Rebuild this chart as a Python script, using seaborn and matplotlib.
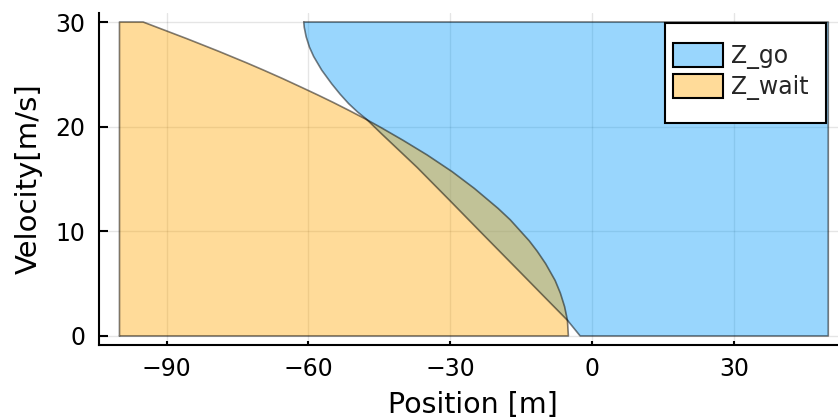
import matplotlib
matplotlib.use("Agg")
import matplotlib.pyplot as plt
from matplotlib.patches import Patch, Rectangle
import seaborn as sns
import pandas as pd

# Boundary of the "go" zone (position [m], velocity [m/s]), traced as a closed polygon
go_x = [-61.0, -60.9, -60.5, -59.8, -58.9, -57.2, -55.1, -53.3, -51.5, -49.6,
        -47.7, -44.5, -37.0, -30.0, -23.5, -15.0, -10.0, -5.2, -2.5, 50.0,
        50.0, -61.0]
go_v = [30.0, 29.5, 28.6, 27.6, 26.7, 25.4, 24.1, 23.1, 22.2, 21.4,
        20.7, 19.3, 16.1, 12.9, 9.9, 6.0, 3.7, 1.5, 0.0, 0.0,
        30.0, 30.0]

# Boundary of the "wait" zone
wait_x = [-100.0, -100.0, -95.0, -85.7, -79.0, -73.1, -69.5, -65.5, -61.2, -57.9,
          -54.7, -51.2, -47.8, -44.6, -40.0, -34.9, -29.6, -24.9, -19.9, -17.3,
          -13.3, -11.6, -9.8, -7.8, -6.7, -5.8, -5.2, -5.0, -100.0]
wait_v = [0.0, 30.0, 30.0, 28.4, 27.2, 26.1, 25.4, 24.6, 23.7, 23.0,
          22.3, 21.5, 20.7, 19.9, 18.7, 17.3, 15.7, 14.1, 12.2, 11.1,
          9.1, 8.1, 6.9, 5.3, 4.1, 2.8, 1.5, 0.0, 0.0]

series = ["Z_go", "Z_wait"]
x_ticks = [-90, -60, -30, 0, 30]
y_ticks = [0, 10, 20, 30]

GO_COLOR = (0 / 255, 154 / 255, 250 / 255)
WAIT_COLOR = (255 / 255, 165 / 255, 0 / 255)
FILL_ALPHA = 0.4
EDGE = (0, 0, 0, 0.5)

sns.set_theme(style="ticks")
plt.rcParams["font.family"] = ["DejaVu Sans"]

fig = plt.figure(figsize=(8.38, 4.18), dpi=100)
ax = fig.add_axes([0.1181, 0.1737, 0.8819, 0.7962])

ax.set_xlim(-104.34, 52.06)
ax.set_ylim(-0.9, 30.9)
ax.set_xticks(x_ticks)
ax.set_yticks(y_ticks)
ax.grid(True, color="black", alpha=0.1, linewidth=1.0)
ax.set_axisbelow(True)

zones = [
    (go_x, go_v, GO_COLOR),
    (wait_x, wait_v, WAIT_COLOR),
]
for xs, vs, col in zones:
    ax.fill(xs, vs, facecolor=col, alpha=FILL_ALPHA, edgecolor="none", zorder=2)
    df = pd.DataFrame({"x": xs, "v": vs})
    sns.lineplot(data=df, x="x", y="v", sort=False, estimator=None,
                 color=EDGE, linewidth=1.2, ax=ax, legend=False, zorder=3)

for side in ("top", "right"):
    ax.spines[side].set_visible(False)
for side in ("left", "bottom"):
    ax.spines[side].set_linewidth(1.5)
    ax.spines[side].set_color("black")

ax.tick_params(axis="y", direction="in", length=6.3, width=1.5, pad=10,
               labelsize=17, colors="black")
ax.tick_params(axis="x", direction="in", length=2.9, width=1.5, pad=8,
               labelsize=17, colors="black")

ax.set_xlabel("Position [m]", fontsize=20.5, color="black")
ax.set_ylabel("Velocity[m/s]", fontsize=21, color="black")
ax.xaxis.set_label_coords(0.506, -0.178)
ax.xaxis.label.set_va("center")
ax.yaxis.set_label_coords(-0.0954, 0.5)
ax.yaxis.label.set_va("center")
ax.yaxis.label.set_ha("center")

# Legend frame drawn as a figure-level box, entries placed inside it
frame = Rectangle((0.7936, 0.705), 0.1918, 0.2392, transform=fig.transFigure,
                  facecolor="white", edgecolor="black", linewidth=1.5, zorder=5)
fig.patches.append(frame)

handles = [
    Patch(facecolor=(*GO_COLOR, FILL_ALPHA), edgecolor="black", linewidth=1.5),
    Patch(facecolor=(*WAIT_COLOR, FILL_ALPHA), edgecolor="black", linewidth=1.5),
]
leg = fig.legend(handles, series, loc="upper left",
                 bbox_to_anchor=(0.8027, 0.8964), bbox_transform=fig.transFigure,
                 frameon=False, fontsize=17, borderpad=0, borderaxespad=0,
                 handlelength=2.12, handleheight=1.14, handletextpad=0.33,
                 labelspacing=0.23)
leg.set_zorder(6)

fig.savefig("out.png", dpi=100)
